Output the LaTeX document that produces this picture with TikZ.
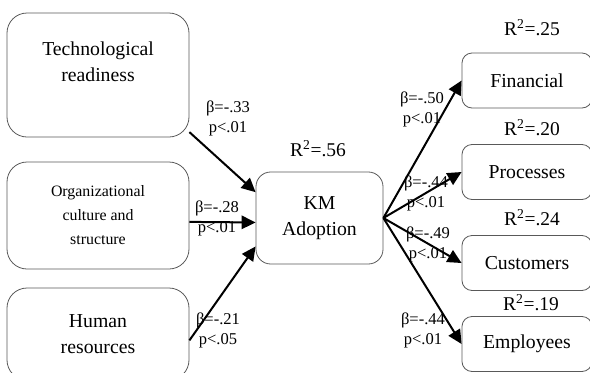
\documentclass[tikz,border=0pt]{standalone}
\usepackage{fontspec}
\setmainfont{Liberation Serif}
\usetikzlibrary{arrows.meta,positioning}

\begin{document}
\begin{tikzpicture}[x=0.75pt, y=-0.75pt,
        box/.style={draw=black!65, line width=0.6pt, rounded corners=15pt, align=center, font=\fontsize{14.8}{19.5}\selectfont},
        effect/.style={box, rounded corners=7.5pt, minimum width=97.5pt, minimum height=41.25pt},
        coef/.style={align=center, inner sep=0pt, font=\fontsize{12.4}{15}\selectfont},
        rsq/.style={inner sep=0pt, font=\fontsize{14.6}{17}\selectfont},
        link/.style={line width=1.5pt, -{Triangle[length=10.5pt, width=10pt]}}]
        \useasboundingbox (0,0) rectangle (590,372);

        % antecedents
        \node[box, minimum width=136.5pt, minimum height=93pt] (tech) at (98,75) {Technological\\readiness\\~};
        \node[box, minimum width=136.5pt, minimum height=80.25pt, font=\fontsize{11.9}{18}\selectfont] (org) at (98,215.5) {Organizational\\culture and\\structure};
        \node[box, minimum width=136.5pt, minimum height=69pt] (human) at (98,334) {Human\\resources};

        \node[box, rounded corners=11pt, minimum width=95.25pt, minimum height=69pt] (km) at (319.5,218) {KM\\Adoption};
        \node[rsq] (rkm) at (318,149) {R\textsuperscript{2}=.56};

        % outcomes
        \node[effect] (fin) at (527,80.5) {Financial};
        \node[effect] (proc) at (527,172) {Processes};
        \node[effect] (cust) at (527,263) {Customers};
        \node[effect] (empl) at (527,344) {Employees};

        \node[rsq] (rfin) at (532,28) {R\textsuperscript{2}=.25};
        \node[rsq] (rproc) at (532,128) {R\textsuperscript{2}=.20};
        \node[rsq] (rcust) at (532,218) {R\textsuperscript{2}=.24};
        \node[rsq] (rempl) at (531,303) {R\textsuperscript{2}=.19};

        \node[coef] (ctech) at (228,118) {β=-.33\\p<.01};
        \node[coef] (corg) at (217,218) {β=-.28\\p<.01};
        \node[coef] (chuman) at (218,330.5) {β=-.21\\p<.05};
        \node[coef] (cfin) at (422,109) {β=-.50\\p<.01};
        \node[coef] (cproc) at (426,193) {β=-.44\\p<.01};
        \node[coef] (ccust) at (428,244) {β=-.49\\p<.01};
        \node[coef] (cempl) at (423,330) {β=-.44\\p<.01};

        \draw[link] (tech.-32) -- (km.158);
        \draw[link] (org.-4) -- (km.184);
        \draw[link] (human.-4) -- (km.204);
        \foreach \t in {fin,proc,cust,empl}
            \draw[link] (km.east) -- (\t.west);
    \end{tikzpicture}
\end{document}
